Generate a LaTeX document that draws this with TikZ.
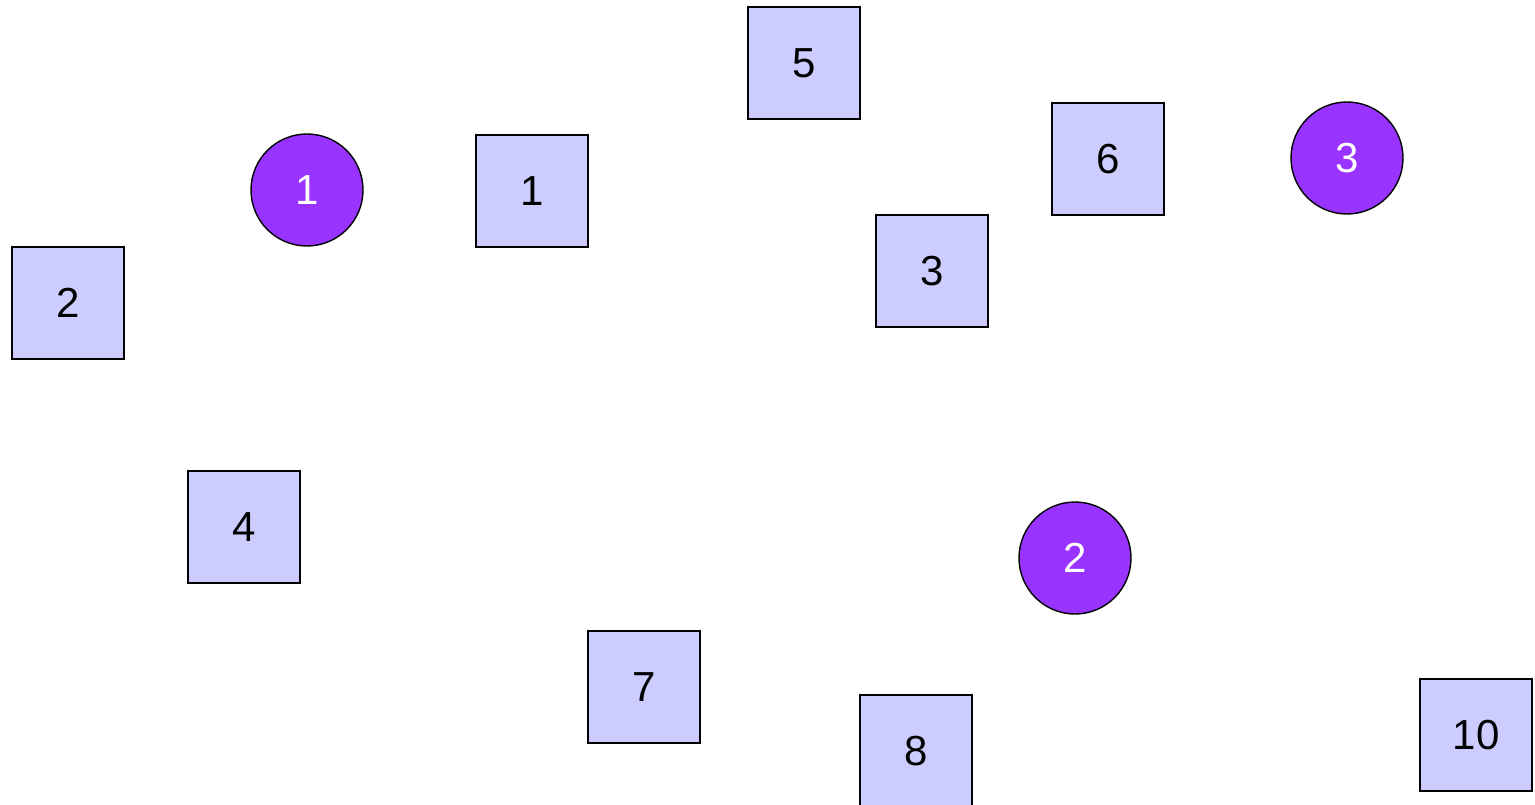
\documentclass[tikz,border=0pt]{standalone}
\usepackage{fontspec}
\setmainfont{Liberation Sans}
\definecolor{boxblue}{HTML}{CCCCFF}
\definecolor{dotviolet}{HTML}{9933FF}

\begin{document}
\begin{tikzpicture}[x=1pt, y=-1pt]
  \tikzstyle{sq}=[rectangle, draw, line width=1.4pt, fill=boxblue, minimum size=112pt, inner sep=0pt, font=\fontsize{42}{48}\selectfont]
  \tikzstyle{ct}=[circle, draw, line width=1.4pt, fill=dotviolet, text=white, minimum size=112pt, inner sep=0pt, font=\fontsize{42}{48}\selectfont]

  \useasboundingbox (0,0) rectangle (1535,805);

  \node[sq] (S5) at (804,63) {5};
  \node[ct] (C1) at (307,190) {1};
  \node[sq] (S1) at (532,191) {1};
  \node[sq] (S2) at (68,303) {2};
  \node[sq] (S6) at (1108,159) {6};
  \node[ct] (C3) at (1347,158) {3};
  \node[sq] (S3) at (932,271) {3};
  \node[sq] (S4) at (244,527) {4};
  \node[ct] (C2) at (1075,558) {2};
  \node[sq] (S7) at (644,687) {7};
  \node[sq] (S8) at (916,751) {8};
  \node[sq] (S10) at (1476,735) {10};
\end{tikzpicture}
\end{document}
